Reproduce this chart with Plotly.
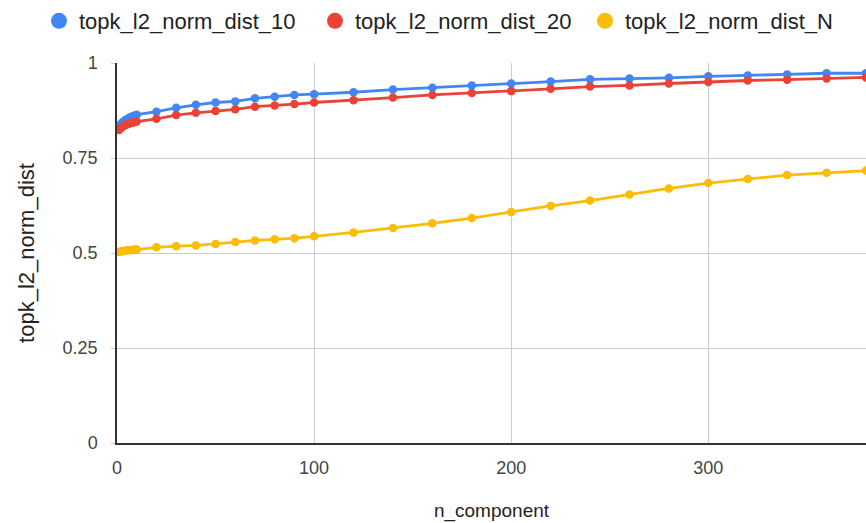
import plotly.graph_objects as go

n_component = [1, 2, 3, 4, 5, 6, 7, 8, 9, 10, 20, 30, 40, 50, 60, 70, 80, 90, 100,
               120, 140, 160, 180, 200, 220, 240, 260, 280, 300, 320, 340, 360, 380]

topk_10 = [0.832, 0.840, 0.845, 0.849, 0.852, 0.855, 0.858, 0.860, 0.862, 0.864,
           0.872, 0.882, 0.890, 0.896, 0.899, 0.907, 0.911, 0.916, 0.918,
           0.923, 0.930, 0.935, 0.941, 0.946, 0.951, 0.957, 0.959, 0.961, 0.965,
           0.967, 0.970, 0.973, 0.973]

topk_20 = [0.824, 0.829, 0.833, 0.836, 0.838, 0.840, 0.842, 0.843, 0.845, 0.846,
           0.853, 0.863, 0.869, 0.874, 0.878, 0.885, 0.888, 0.892, 0.896,
           0.902, 0.909, 0.916, 0.921, 0.926, 0.932, 0.938, 0.941, 0.946, 0.950,
           0.954, 0.956, 0.959, 0.962]

topk_N = [0.503, 0.504, 0.505, 0.506, 0.507, 0.507, 0.508, 0.508, 0.509, 0.509,
          0.515, 0.518, 0.520, 0.524, 0.529, 0.533, 0.536, 0.539, 0.544,
          0.554, 0.566, 0.578, 0.592, 0.608, 0.624, 0.638, 0.654, 0.670, 0.684,
          0.695, 0.705, 0.711, 0.717]

series_names = ["topk_l2_norm_dist_10", "topk_l2_norm_dist_20", "topk_l2_norm_dist_N"]
series_values = [topk_10, topk_20, topk_N]
colors = ["#4285F4", "#EA4335", "#FBBC04"]

y_ticks = [0, 0.25, 0.5, 0.75, 1]
y_tick_labels = ["0", "0.25", "0.5", "0.75", "1"]
x_ticks = [0, 100, 200, 300]

FONT = "Liberation Sans, Arial, sans-serif"
W, H = 866, 523
legend_ids = ["legend", "legend2", "legend3"]
legend_symbol_x = [60, 336, 606]   # pixel centres of legend symbols

fig = go.Figure()
for name, vals, col, lid in zip(series_names, series_values, colors, legend_ids):
    fig.add_trace(go.Scatter(
        x=n_component, y=vals, mode="lines+markers", name=name,
        line=dict(color=col, width=2.8), marker=dict(color=col, size=8.5),
        showlegend=False, cliponaxis=True,
    ))
    fig.add_trace(go.Scatter(
        x=[None], y=[None], mode="markers", name=name, legend=lid,
        marker=dict(color=col, size=17), showlegend=True,
    ))

legend_common = dict(orientation="h", xref="container", yref="container",
                     y=1.0, yanchor="top", xanchor="left",
                     font=dict(size=22, color="#222222", family=FONT),
                     bgcolor="rgba(0,0,0,0)")
layout_legends = {}
for lid, sx in zip(legend_ids, legend_symbol_x):
    layout_legends[lid] = dict(legend_common, x=(sx - 21) / W)

fig.update_layout(
    width=W, height=H,
    margin=dict(l=117, r=0, t=63, b=80, autoexpand=False),
    paper_bgcolor="white", plot_bgcolor="white",
    font=dict(family=FONT, color="#222222", size=18),
    xaxis=dict(range=[0, 380], tickvals=x_ticks, ticktext=[str(v) for v in x_ticks],
               showgrid=True, gridcolor="#cccccc", gridwidth=1,
               zeroline=False, showline=True, linecolor="#333333", linewidth=1.5,
               ticks="", tickfont=dict(size=18, color="#444444"),
               ticklabelstandoff=8,
               title=dict(text="n_component", font=dict(size=19, color="#222222"),
                          standoff=26)),
    yaxis=dict(range=[0, 1], tickvals=y_ticks, ticktext=y_tick_labels,
               showgrid=True, gridcolor="#cccccc", gridwidth=1,
               zeroline=False, showline=True, linecolor="#333333", linewidth=1.5,
               ticks="outside", ticklen=4, tickcolor="#cccccc",
               tickfont=dict(size=18, color="#444444"), ticklabelstandoff=10,
               title=dict(text="topk_l2_norm_dist", font=dict(size=22, color="#222222"),
                          standoff=22)),
    **layout_legends,
)

fig.write_html("out.html")
